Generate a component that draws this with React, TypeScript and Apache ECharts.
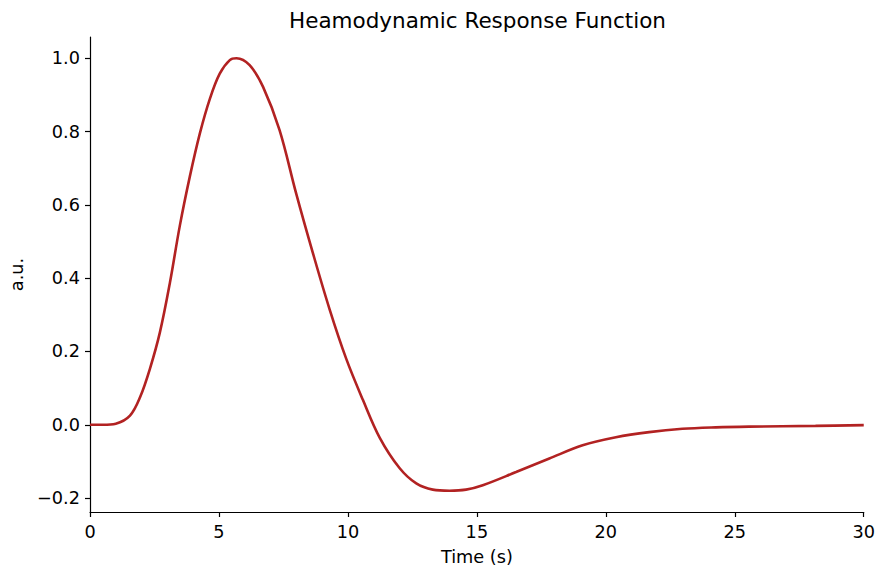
import React, { useEffect, useRef } from "react";
import * as echarts from "echarts";

const timeS = [0, 0.5, 1.0, 1.55, 1.94, 2.32, 2.71, 3.1, 3.48, 3.87, 4.26, 4.65, 5.03, 5.42, 5.68, 6.19, 6.71, 7.35, 7.99, 8.64, 9.29, 9.94, 10.58, 11.23, 12.0, 12.65, 13.29, 13.94, 14.58, 15.23, 16.52, 17.81, 19.1, 20.39, 21.68, 22.97, 24.26, 25.55, 28.13, 30];
const response = [0, 0, 0.003, 0.025, 0.075, 0.152, 0.252, 0.388, 0.542, 0.677, 0.795, 0.89, 0.958, 0.995, 1.0, 0.981, 0.922, 0.804, 0.632, 0.469, 0.315, 0.179, 0.068, -0.035, -0.118, -0.16, -0.177, -0.18, -0.177, -0.165, -0.129, -0.092, -0.056, -0.034, -0.02, -0.011, -0.007, -0.005, -0.003, -0.001];
const yTicks = [-0.2, 0, 0.2, 0.4, 0.6, 0.8, 1.0];
const xTicks = [0, 5, 10, 15, 20, 25, 30];

const FONT = "DejaVu Sans";

export default function App() {
  const ref = useRef<HTMLDivElement>(null);
  useEffect(() => {
    if (!ref.current) return;
    const chart = echarts.init(ref.current, null, { renderer: "svg" });
    chart.setOption({
      animation: false,
      backgroundColor: "#ffffff",
      title: {
        text: "Heamodynamic Response Function",
        left: 284,
        top: 4,
        textStyle: { fontFamily: FONT, fontSize: 21.5, fontWeight: "normal", color: "#000" },
      },
      grid: { left: 90, right: 12, top: 37, bottom: 57 },
      xAxis: {
        type: "value",
        min: 0,
        max: 30,
        name: "Time (s)",
        nameLocation: "middle",
        nameGap: 36,
        nameTextStyle: { fontFamily: FONT, fontSize: 17.7, color: "#000" },
        axisLine: { show: true, onZero: false, lineStyle: { color: "#000", width: 1.2 } },
        axisTick: { show: true, inside: false, length: 5, customValues: xTicks, lineStyle: { color: "#000", width: 1.2 } },
        axisLabel: { customValues: xTicks, fontFamily: FONT, fontSize: 17.7, color: "#000", margin: 11 },
        splitLine: { show: false },
      },
      yAxis: {
        type: "value",
        min: -0.238,
        max: 1.058,
        name: "a.u.",
        nameLocation: "middle",
        nameGap: 64,
        nameRotate: 90,
        nameTextStyle: { fontFamily: FONT, fontSize: 17.7, color: "#000" },
        axisLine: { show: true, onZero: false, lineStyle: { color: "#000", width: 1.2 } },
        axisTick: { show: true, inside: false, length: 5, customValues: yTicks, lineStyle: { color: "#000", width: 1.2 } },
        axisLabel: {
          customValues: yTicks,
          fontFamily: FONT,
          fontSize: 17.7,
          color: "#000",
          margin: 10,
          formatter: (v: number) => v.toFixed(1).replace("-", "\u2212"),
        },
        splitLine: { show: false },
      },
      series: [
        {
          type: "line",
          data: timeS.map((t, i) => [t, response[i]]),
          smooth: 0.35,
          showSymbol: false,
          lineStyle: { color: "#b22222", width: 2.6 },
        },
      ],
    });
    return () => chart.dispose();
  }, []);
  return (
    <div
      ref={ref}
      style={{ position: "fixed", left: 0, top: 0, width: 878, height: 571, background: "#fff" }}
    />
  );
}
